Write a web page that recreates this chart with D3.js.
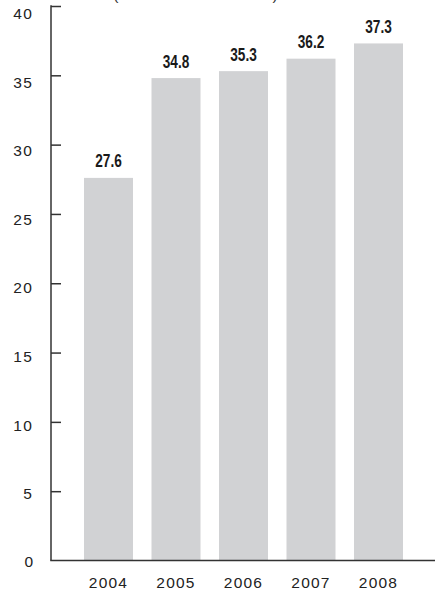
<!DOCTYPE html>
<html>
<head>
<meta charset="utf-8">
<script src="https://cdn.jsdelivr.net/npm/d3@7"></script>
<style>
  html, body { margin: 0; padding: 0; background: #fff; }
  svg { display: block; }
</style>
</head>
<body>
<div id="chart"></div>
<script>
// Annual values, one bar per year
const years = ["2004", "2005", "2006", "2007", "2008"];
const values = [27.6, 34.8, 35.3, 36.2, 37.3];
const yTicks = [0, 5, 10, 15, 20, 25, 30, 35, 40];
const unitNote = "(in billions of dollars)";

const W = 435, H = 594;
const axisX = 51;
const sans = "Liberation Sans, Arial, Helvetica, sans-serif";

const svg = d3.select("#chart").append("svg")
  .attr("width", W).attr("height", H);

const y = d3.scaleLinear().domain([0, 40]).range([560.5, 6]);
// tick labels sit slightly lower than their tick marks
const yLabel = d3.scaleLinear().domain([0, 40]).range([562.5, 13.5]);

const x = d3.scaleBand().domain(years).range([65.5, 421.5]).padding(0.274);

// unit note, running off the top edge
svg.append("text")
  .attr("x", 196).attr("y", -0.5)
  .attr("text-anchor", "middle")
  .attr("font-family", sans)
  .attr("font-size", 15.5)
  .attr("letter-spacing", 1)
  .attr("fill", "#333")
  .text(unitNote);

// bars
svg.append("g").selectAll("rect")
  .data(values)
  .join("rect")
  .attr("x", (d, i) => x(years[i]))
  .attr("width", x.bandwidth())
  .attr("y", d => y(d))
  .attr("height", d => y(0) - y(d))
  .attr("fill", "#d1d2d4");

// value labels, bold and horizontally condensed
svg.append("g").selectAll("text")
  .data(values)
  .join("text")
  .attr("transform", (d, i) =>
    `translate(${x(years[i]) + x.bandwidth() / 2},${y(d) - 10.5}) scale(0.78,1)`)
  .attr("text-anchor", "middle")
  .attr("font-family", sans)
  .attr("font-weight", "bold")
  .attr("font-size", 17.5)
  .attr("fill", "#1a1a1a")
  .text(d => d.toFixed(1));

// y axis with inward ticks
const yAxis = d3.axisLeft(y)
  .tickValues(yTicks.filter(t => t > 0))
  .tickSizeInner(-10)
  .tickSizeOuter(0)
  .tickPadding(18)
  .tickFormat(d3.format("d"));

const gy = svg.append("g")
  .attr("transform", `translate(${axisX},0)`)
  .call(yAxis);
gy.select(".domain").remove();
gy.selectAll(".tick line").attr("stroke", "#333").attr("stroke-width", 1.5);
gy.selectAll(".tick text")
  .attr("font-family", sans)
  .attr("font-size", 15.5)
  .attr("letter-spacing", 1.2)
  .attr("fill", "#222")
  .attr("y", d => yLabel(d) - y(d));

// zero label
gy.append("text")
  .attr("x", -18).attr("y", yLabel(0)).attr("dy", "0.32em")
  .attr("text-anchor", "end")
  .attr("font-family", sans)
  .attr("font-size", 15.5)
  .attr("fill", "#222")
  .text(yTicks[0]);

// vertical axis line and baseline
svg.append("line")
  .attr("x1", axisX).attr("x2", axisX)
  .attr("y1", y(40) - 0.75).attr("y2", y(0))
  .attr("stroke", "#333").attr("stroke-width", 1.5);
svg.append("line")
  .attr("x1", axisX - 0.75).attr("x2", W)
  .attr("y1", y(0)).attr("y2", y(0))
  .attr("stroke", "#333").attr("stroke-width", 1.5);

// x axis labels
const xAxis = d3.axisBottom(x).tickSize(0).tickPadding(16);
const gx = svg.append("g")
  .attr("transform", `translate(0,${y(0)})`)
  .call(xAxis);
gx.select(".domain").remove();
gx.selectAll(".tick text")
  .attr("font-family", sans)
  .attr("font-size", 15.5)
  .attr("letter-spacing", 1.2)
  .attr("fill", "#222");
</script>
</body>
</html>
